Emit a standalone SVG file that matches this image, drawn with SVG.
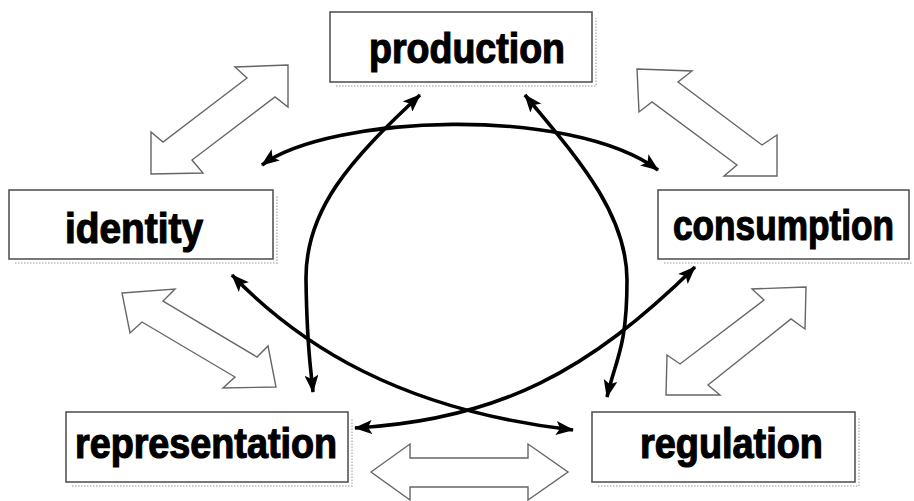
<svg xmlns="http://www.w3.org/2000/svg" width="914" height="501" viewBox="0 0 914 501">
<defs>
<style>
.box{fill:#fff;stroke:#555;stroke-width:1.6}
.shadow{fill:none;stroke:#bbb;stroke-width:1.5;stroke-dasharray:1.5 1.5}
.lbl{font-family:"Liberation Sans",Arial,sans-serif;font-weight:bold;font-size:42px;fill:#000;stroke:#000;stroke-width:1.2}
.hollow{fill:#fff;stroke:#666;stroke-width:1.4;stroke-linejoin:miter}
.conn{fill:none;stroke:#000;stroke-width:3.6}
</style>
<marker id="ah" viewBox="0 0 18 14" refX="17" refY="7" markerWidth="18" markerHeight="14" markerUnits="userSpaceOnUse" orient="auto-start-reverse">
<path d="M0,0 L18,7 L0,14 L4,7 Z" fill="#000"/>
</marker>
</defs>
<rect width="914" height="501" fill="#fff"/>

<g id="hollow-arrows">
<polygon class="hollow" points="288,65 235,67 247,78 163,142 151,132 151,174 203,173 192,160 275,97 288,107"/>
<polygon class="hollow" points="637,69 692,71 678,82 762,145 777,135 777,176 724,176 737,165 652,102 639,112"/>
<polygon class="hollow" points="122,293 175,289 163,301 257,357 268,346 276,387 223,388 235,377 142,322 130,333"/>
<polygon class="hollow" points="806,287 752,289 764,300 680,364 667,355 666,395 720,395 708,385 791,319 805,329"/>
<polygon class="hollow" points="371,472 410,444 410,458 528,458 528,444 568,472 528,500 528,487 410,487 410,500"/>
</g>

<g id="production">
<polyline class="shadow" points="336,86 596,86 596,18"/>
<rect class="box" x="330" y="12" width="262" height="70"/>
<text class="lbl" x="369" y="63" font-size="45" textLength="196" lengthAdjust="spacingAndGlyphs">production</text>
</g>
<g id="identity">
<polyline class="shadow" points="15,263 277,263 277,196"/>
<rect class="box" x="9" y="190" width="264" height="69"/>
<text class="lbl" x="65" y="243" textLength="138" lengthAdjust="spacingAndGlyphs">identity</text>
</g>
<g id="consumption">
<polyline class="shadow" points="664,263 912,263"/>
<rect class="box" x="658" y="190" width="251" height="69"/>
<text class="lbl" x="673" y="240" font-size="36" textLength="221" lengthAdjust="spacingAndGlyphs">consumption</text>
</g>
<g id="representation">
<polyline class="shadow" points="72,486 352,486 352,418"/>
<rect class="box" x="66" y="412" width="282" height="70"/>
<text class="lbl" x="75" y="458" textLength="262" lengthAdjust="spacingAndGlyphs">representation</text>
</g>
<g id="regulation">
<polyline class="shadow" points="598,486 859,486 859,418"/>
<rect class="box" x="592" y="412" width="263" height="70"/>
<text class="lbl" x="640" y="458" textLength="183" lengthAdjust="spacingAndGlyphs">regulation</text>
</g>

<g id="connectors">
<path class="conn" d="M262,165 C330,115 570,105 658,170" marker-start="url(#ah)" marker-end="url(#ah)"/>
<path class="conn" d="M420,95 C350,160 305,210 306,280 S310,360 313,392" marker-start="url(#ah)" marker-end="url(#ah)"/>
<path class="conn" d="M525,95 C570,150 627,210 627,280 S615,360 607,397" marker-start="url(#ah)" marker-end="url(#ah)"/>
<path class="conn" d="M232,275 C300,345 400,410 573,430" marker-start="url(#ah)" marker-end="url(#ah)"/>
<path class="conn" d="M695,267 C590,370 500,420 355,428" marker-start="url(#ah)" marker-end="url(#ah)"/>
</g>
</svg>
